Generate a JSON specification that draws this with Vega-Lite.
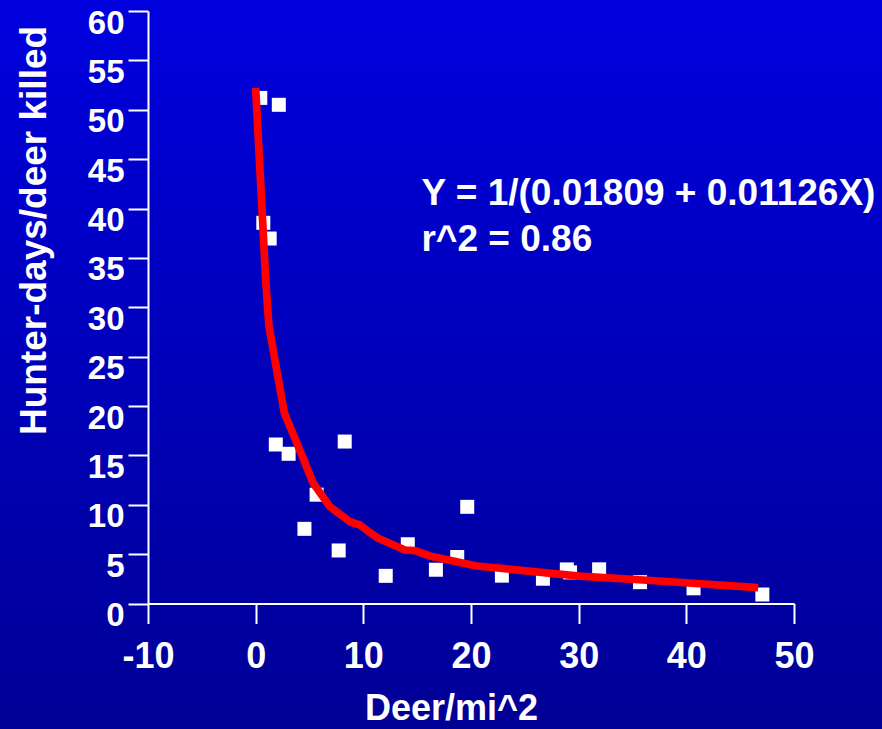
{
  "$schema": "https://vega.github.io/schema/vega-lite/v6.json",
  "autosize": {"type": "none"},
  "padding": {"left": 148, "top": 11, "right": 88, "bottom": 125.5},
  "width": 646,
  "height": 592.5,
  "background": "#0000B8",
  "config": {
    "view": {"stroke": null},
    "font": "Liberation Sans",
    "axis": {"grid": false}
  },
  "datasets": {
    "obs": [
      {"density": 0.43, "effort": 51.2},
      {"density": 2.15, "effort": 50.5},
      {"density": 0.71, "effort": 38.55},
      {"density": 1.3, "effort": 36.96},
      {"density": 1.87, "effort": 16.1},
      {"density": 3.06, "effort": 15.16},
      {"density": 4.53, "effort": 7.56},
      {"density": 5.66, "effort": 11.02},
      {"density": 7.71, "effort": 5.37},
      {"density": 8.27, "effort": 16.4},
      {"density": 12.08, "effort": 2.8},
      {"density": 14.13, "effort": 6.0},
      {"density": 16.74, "effort": 3.42},
      {"density": 18.72, "effort": 4.71},
      {"density": 19.65, "effort": 9.79},
      {"density": 22.87, "effort": 2.82},
      {"density": 26.68, "effort": 2.51},
      {"density": 28.9, "effort": 3.45},
      {"density": 29.2, "effort": 3.15},
      {"density": 31.9, "effort": 3.46},
      {"density": 35.7, "effort": 2.16},
      {"density": 40.67, "effort": 1.54},
      {"density": 47.06, "effort": 0.91}
    ],
    "fit": [
      {"density": 0.0, "effort": 52.2},
      {"density": 0.93, "effort": 32.8},
      {"density": 1.23, "effort": 28.1},
      {"density": 2.66, "effort": 19.3},
      {"density": 3.71, "effort": 16.56},
      {"density": 5.35, "effort": 12.17},
      {"density": 6.9, "effort": 9.8},
      {"density": 8.76, "effort": 8.28},
      {"density": 9.68, "effort": 7.95},
      {"density": 10.3, "effort": 7.44},
      {"density": 11.38, "effort": 6.6},
      {"density": 13.86, "effort": 5.42},
      {"density": 14.8, "effort": 5.35},
      {"density": 16.19, "effort": 4.81},
      {"density": 20.52, "effort": 3.8},
      {"density": 30.1, "effort": 2.78},
      {"density": 37.5, "effort": 2.28},
      {"density": 46.67, "effort": 1.6}
    ]
  },
  "layer": [
    {
      "data": {"values": [{}]},
      "mark": {
        "type": "rect",
        "fill": {
          "gradient": "linear",
          "x1": 0, "y1": 0, "x2": 0, "y2": 1,
          "stops": [
            {"offset": 0.0987, "color": "#0000DE"},
            {"offset": 0.919, "color": "#000096"}
          ]
        }
      },
      "encoding": {
        "x": {
          "datum": -40, "type": "quantitative",
          "scale": {"domain": [-10, 50], "nice": false, "zero": false},
          "axis": {
            "zindex": 2,
            "values": [-10, 0, 10, 20, 30, 40, 50],
            "labelExpr": "'' + datum.value",
            "domainColor": "#FFFFFF", "domainWidth": 2,
            "tickColor": "#FFFFFF", "tickWidth": 2, "tickSize": 20,
            "labelColor": "#FFFFFF", "labelFontSize": 36, "labelFontWeight": "bold",
            "labelBaseline": "alphabetic", "labelPadding": 44, "labelOverlap": false, "labelFlush": false,
            "title": "Deer/mi^2", "titleColor": "#FFFFFF", "titleFontSize": 36, "titleFontWeight": "bold",
            "titleX": 303, "titleY": 116, "titleAlign": "center", "titleBaseline": "alphabetic"
          }
        },
        "x2": {"datum": 70},
        "y": {
          "datum": 70, "type": "quantitative",
          "scale": {"domain": [0, 60], "nice": false, "zero": false},
          "axis": {
            "zindex": 2,
            "values": [0, 5, 10, 15, 20, 25, 30, 35, 40, 45, 50, 55, 60],
            "domainColor": "#FFFFFF", "domainWidth": 2,
            "tickColor": "#FFFFFF", "tickWidth": 2, "tickSize": 20,
            "labelColor": "#FFFFFF", "labelFontSize": 33, "labelFontWeight": "bold",
            "labelBaseline": "alphabetic", "labelOffset": 22, "labelPadding": 4, "labelOverlap": false, "labelFlush": false,
            "title": "Hunter-days/deer killed", "titleColor": "#FFFFFF", "titleFontSize": 37, "titleFontWeight": "bold",
            "titleAngle": -90, "titleX": -103, "titleY": 219, "titleAlign": "center", "titleBaseline": "alphabetic"
          }
        },
        "y2": {"datum": -20}
      }
    },
    {
      "data": {"name": "obs"},
      "mark": {"type": "point", "shape": "square", "filled": true, "color": "#FFFFFF", "size": 196, "opacity": 1, "strokeWidth": 0},
      "encoding": {
        "x": {"field": "density", "type": "quantitative"},
        "y": {"field": "effort", "type": "quantitative"}
      }
    },
    {
      "data": {"name": "fit"},
      "mark": {"type": "line", "color": "#FF0000", "strokeWidth": 7.7, "strokeCap": "butt", "strokeJoin": "round"},
      "encoding": {
        "x": {"field": "density", "type": "quantitative"},
        "y": {"field": "effort", "type": "quantitative"}
      }
    },
    {
      "data": {"values": [{}]},
      "mark": {
        "type": "text", "align": "left", "baseline": "alphabetic",
        "fontSize": 37, "fontWeight": "bold", "color": "#FFFFFF", "lineHeight": 46,
        "text": ["Y = 1/(0.01809 + 0.01126X)", "r^2 = 0.86"]
      },
      "encoding": {
        "x": {"datum": 15.4, "type": "quantitative"},
        "y": {"datum": 40.35, "type": "quantitative"}
      }
    }
  ]
}
